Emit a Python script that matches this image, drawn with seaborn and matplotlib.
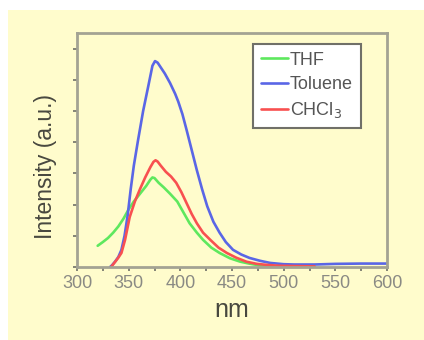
import numpy as np
import pandas as pd
import matplotlib
matplotlib.use("Agg")
import matplotlib.pyplot as plt
from matplotlib.patches import Rectangle
from matplotlib.ticker import MultipleLocator
import seaborn as sns

# emission spectra (arbitrary units)
thf_nm = [320, 325, 330, 335, 340, 345, 350, 355, 361, 367, 371, 373, 375, 379, 384,
          390, 397, 403, 409, 416, 422, 430, 438, 448, 458, 468, 477, 490]
thf_int = [0.68, 0.8, 0.93, 1.1, 1.3, 1.55, 1.85, 2.1, 2.35, 2.6, 2.8, 2.87, 2.85, 2.7, 2.55,
           2.35, 2.1, 1.75, 1.4, 1.1, 0.87, 0.62, 0.45, 0.28, 0.17, 0.1, 0.05, 0.03]

tol_nm = [332, 334, 337, 340, 343, 346, 349, 352, 355, 359, 364, 369, 373, 375.5, 378, 381,
          385, 390, 395, 398, 402, 406, 411, 416, 421, 426, 432, 438, 444, 451, 459,
          467, 477, 487, 500, 510, 530, 550, 575, 600]
tol_int = [0.0, 0.06, 0.18, 0.32, 0.55, 1.0, 1.65, 2.5, 3.25, 4.05, 5.0, 5.8, 6.45, 6.6, 6.55, 6.4,
           6.2, 5.9, 5.55, 5.3, 4.9, 4.4, 3.75, 3.1, 2.5, 1.95, 1.45, 1.1, 0.8, 0.55, 0.4,
           0.29, 0.2, 0.13, 0.09, 0.08, 0.08, 0.1, 0.11, 0.11]

chcl3_nm = [333, 337, 340, 343, 346.5, 351, 356, 361, 366, 371, 374, 376, 378, 381, 386,
            391, 396, 401, 406, 411, 416, 422, 429, 437, 445, 454, 464, 474, 483, 495, 510, 530]
chcl3_int = [0.0, 0.17, 0.3, 0.45, 0.87, 1.6, 2.1, 2.5, 2.87, 3.2, 3.37, 3.42, 3.38, 3.25, 3.05,
             2.9, 2.7, 2.4, 2.05, 1.7, 1.4, 1.1, 0.87, 0.62, 0.45, 0.3, 0.17, 0.1, 0.07, 0.04,
             0.03, 0.02]

labels = ["THF", "Toluene", "CHCl$_3$"]
colors = ["#5ee85e", "#5a66e6", "#f85050"]

frames = []
for lab, xs, ys in zip(labels, [thf_nm, tol_nm, chcl3_nm], [thf_int, tol_int, chcl3_int]):
    frames.append(pd.DataFrame({"nm": xs, "intensity": ys, "solvent": lab}))
df = pd.concat(frames, ignore_index=True)

sns.set_style("ticks")
plt.rcParams["font.family"] = ["Liberation Sans", "DejaVu Sans"]

bg = "#fffccc"
grey = "#a3a393"
fig = plt.figure(figsize=(4.24, 3.40), dpi=100, facecolor="white")
# yellow panel behind the plot
panel = Rectangle((8 / 424, 0), 1, (340 - 10) / 340, transform=fig.transFigure,
                  facecolor=bg, edgecolor="none", zorder=-10)
fig.add_artist(panel)
ax = fig.add_axes([77 / 424, 73 / 340, 310 / 424, 234 / 340])
ax.set_zorder(1)
ax.set_facecolor(bg)

sns.lineplot(data=df, x="nm", y="intensity", hue="solvent", palette=colors,
             hue_order=labels, linewidth=1.9, ax=ax, sort=False, estimator=None)
for ln in ax.get_lines():
    ln.set_solid_joinstyle("round")

ax.set_xlim(300, 600)
ax.set_ylim(0, 7.5)
ax.xaxis.set_major_locator(MultipleLocator(50))
ax.xaxis.set_minor_locator(MultipleLocator(25))
ax.yaxis.set_major_locator(MultipleLocator(1))
ax.yaxis.set_minor_locator(MultipleLocator(0.5))
ax.set_yticklabels([])
ax.tick_params(axis="both", which="both", direction="out", color="#707068",
               length=3, width=1.2, labelsize=13, labelcolor="#8a8a84", pad=3)
ax.tick_params(axis="y", which="minor", length=0)
for s in ax.spines.values():
    s.set_color(grey)
    s.set_linewidth(2)

ax.set_xlabel("nm", fontsize=18, color="#48483f", labelpad=4)
ax.set_ylabel("Intensity (a.u.)", fontsize=16.5, color="#48483f")
ax.yaxis.set_label_coords(-0.064, 0.43)

leg = ax.legend(loc="upper right", bbox_to_anchor=(0.915, 0.955), fontsize=13,
                frameon=True, fancybox=False, handlelength=1.5, handletextpad=0.1,
                borderpad=0.45, labelspacing=0.4, borderaxespad=0)
leg.get_frame().set_edgecolor("#707068")
leg.get_frame().set_linewidth(1.5)
leg.get_frame().set_facecolor("white")
leg.get_frame().set_alpha(1)
for t in leg.get_texts():
    t.set_color("#555555")

fig.savefig("out.png", dpi=100, facecolor="white")
